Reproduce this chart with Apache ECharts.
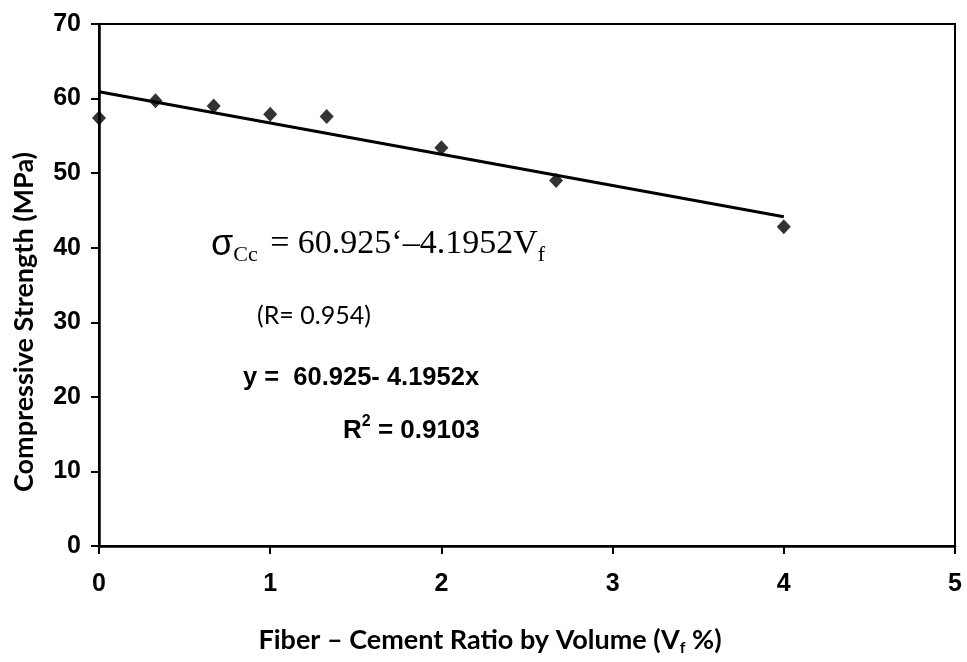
<!DOCTYPE html>
<html>
<head>
<meta charset="utf-8">
<script src="https://cdn.jsdelivr.net/npm/echarts@6/dist/echarts.min.js"></script>
<style>html,body{margin:0;padding:0;background:#fff}#c{width:967px;height:662px}</style>
</head>
<body>
<div id="c"></div>
<script>
// Data
const fiberRatio = [0, 0.33, 0.67, 1, 1.33, 2, 2.67, 4];
const strength = [57.4, 59.7, 59.0, 57.9, 57.6, 53.4, 49.0, 42.8];
const trendX = [0, 4];
const trendY = [60.925, 44.144];
const xTicks = [0, 1, 2, 3, 4, 5];
const yTicks = [0, 10, 20, 30, 40, 50, 60, 70];

const chart = echarts.init(document.getElementById('c'), null, {renderer: 'canvas'});
const sans = '"Liberation Sans", Arial, sans-serif';
const cal = 'Lato, "Open Sans", sans-serif';
const serif = '"Liberation Serif", "Times New Roman", serif';

chart.setOption({
  animation: false,
  backgroundColor: '#fff',
  grid: {left: 99, right: 12, top: 24, bottom: 116, show: true, borderColor: '#000', borderWidth: 2, backgroundColor: 'transparent'},
  xAxis: {
    type: 'value', min: xTicks[0], max: xTicks[xTicks.length - 1], interval: 1,
    axisLine: {show: true, onZero: false, lineStyle: {color: '#000', width: 2.5}},
    axisTick: {show: true, inside: false, length: 8, lineStyle: {color: '#000', width: 2}},
    axisLabel: {color: '#000', fontSize: 25, fontWeight: 'bold', fontFamily: sans, margin: 26},
    splitLine: {show: false}
  },
  yAxis: {
    type: 'value', min: yTicks[0], max: yTicks[yTicks.length - 1], interval: 10,
    axisLine: {show: true, onZero: false, lineStyle: {color: '#000', width: 2.5}},
    axisTick: {show: true, inside: false, length: 8, lineStyle: {color: '#000', width: 2}},
    axisLabel: {color: '#000', fontSize: 25, fontWeight: 'bold', fontFamily: sans, margin: 18},
    splitLine: {show: false}
  },
  series: [
    {
      type: 'line',
      data: trendX.map((x, i) => [x, trendY[i]]),
      symbol: 'none',
      lineStyle: {color: '#000', width: 3},
      z: 2
    },
    {
      type: 'scatter',
      data: fiberRatio.map((x, i) => [x, strength[i]]),
      symbol: 'diamond',
      symbolSize: [14, 15],
      itemStyle: {color: '#000'},
      z: 3
    }
  ],
  graphic: [
    {
      type: 'text', x: 211, y: 232, silent: true,
      style: {
        text: '{s|σ}{sub|Cc}{m| = 60.925‘–4.1952V}{sub|f}',
        fill: '#000',
        rich: {
          s: {fontFamily: sans, fontSize: 36, verticalAlign: 'bottom', padding: [0, 0, 7, 0], lineHeight: 38},
          m: {fontFamily: serif, fontSize: 34, verticalAlign: 'bottom', padding: [0, 0, 9, 4], lineHeight: 36},
          sub: {fontFamily: serif, fontSize: 22, verticalAlign: 'bottom', padding: [0, 0, 4, 0], lineHeight: 24}
        }
      }
    },
    {
      type: 'text', x: 257, y: 303, silent: true,
      style: {text: '(R= 0.954)', fill: '#000', font: '25px ' + cal}
    },
    {
      type: 'text', x: 243, y: 365, silent: true,
      style: {text: 'y =  60.925- 4.1952x', fill: '#000', font: 'bold 25.5px ' + sans}
    },
    {
      type: 'text', x: 343, y: 414, silent: true,
      style: {
        text: '{b|R}{sup|2}{b| = 0.9103}',
        fill: '#000',
        rich: {
          b: {fontFamily: sans, fontWeight: 'bold', fontSize: 26, verticalAlign: 'bottom', lineHeight: 30},
          sup: {fontFamily: sans, fontWeight: 'bold', fontSize: 16, verticalAlign: 'top', lineHeight: 17}
        }
      }
    },
    {
      type: 'text', x: 490, y: 641, silent: true,
      style: {
        text: '{t|Fiber – Cement Ratio by Volume (V}{sub|f}{t| %)}',
        fill: '#000', align: 'center', verticalAlign: 'middle', textAlign: 'center', textVerticalAlign: 'middle',
        rich: {
          t: {fontFamily: cal, fontWeight: 'bold', fontSize: 27, verticalAlign: 'bottom', padding: [0, 0, 2, 0], lineHeight: 30},
          sub: {fontFamily: cal, fontWeight: 'bold', fontSize: 16, verticalAlign: 'bottom', lineHeight: 20}
        }
      }
    },
    {
      type: 'text', x: 24, y: 322, rotation: Math.PI / 2, silent: true,
      style: {
        text: 'Compressive Strength (MPa)', fill: '#000',
        font: 'bold 27px ' + cal,
        align: 'center', verticalAlign: 'middle', textAlign: 'center', textVerticalAlign: 'middle'
      }
    }
  ]
});
</script>
</body>
</html>
